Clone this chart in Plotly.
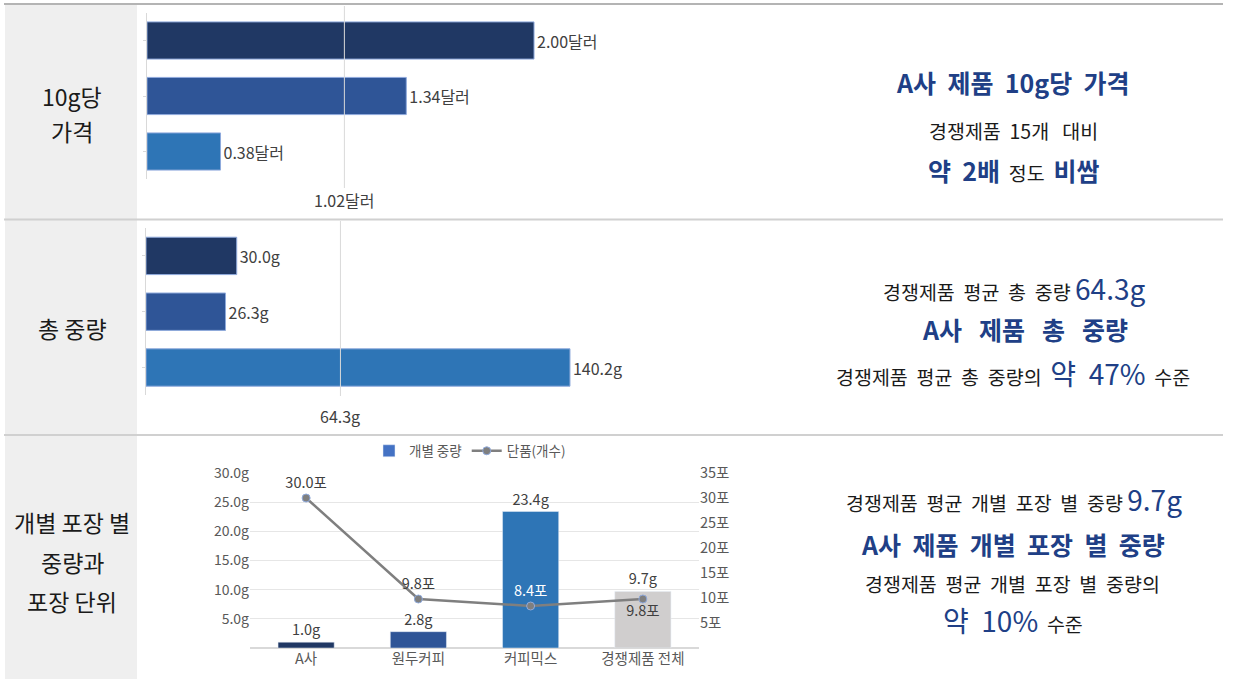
import plotly.graph_objects as go

W, H = 1233, 679
FONT = "Noto Sans CJK KR"
NAVY_TXT = "#203F86"
TXT = "#1a1a1a"
LBL = "#404040"

# ---- data ----
products = ["A사", "원두커피", "커피믹스"]
price_per_10g = [2.00, 1.34, 0.38]
price_avg = 1.02
total_weight = [30.0, 26.3, 140.2]
weight_avg = 64.3
bar_colors = ["#203864", "#2F5597", "#2E75B6"]

pack_cats = ["A사", "원두커피", "커피믹스", "경쟁제품 전체"]
pack_weight = [1.0, 2.8, 23.4, 9.7]
pack_count = [30.0, 9.8, 8.4, 9.8]
pack_colors = ["#203864", "#2F5597", "#2E75B6", "#D0CECE"]
left_ticks = [5, 10, 15, 20, 25, 30]
right_ticks = [5, 10, 15, 20, 25, 30, 35]


def px(x):
    return x / W


def py(y):
    return 1 - y / H


fig = go.Figure()

# ---- top: price per 10g ----
fig.add_trace(go.Bar(
    x=price_per_10g, y=products, orientation="h",
    marker=dict(color=bar_colors, line=dict(color="#8FAADC", width=1)),
    text=[f"{v:.2f}달러" for v in price_per_10g], textposition="outside",
    textfont=dict(size=16, color=LBL), cliponaxis=False,
    xaxis="x", yaxis="y", showlegend=False, hoverinfo="skip"))

# ---- middle: total weight ----
fig.add_trace(go.Bar(
    x=total_weight, y=products, orientation="h",
    marker=dict(color=bar_colors, line=dict(color="#8FAADC", width=1)),
    text=[f"{v:.1f}g" for v in total_weight], textposition="outside",
    textfont=dict(size=16, color=LBL), cliponaxis=False,
    xaxis="x2", yaxis="y2", showlegend=False, hoverinfo="skip"))

# ---- bottom: per-pack weight + count ----
fig.add_trace(go.Bar(
    x=pack_cats, y=pack_weight, width=0.5,
    marker=dict(color=pack_colors),
    text=[f"{v:.1f}g" for v in pack_weight], textposition="outside",
    textfont=dict(size=14.5, color=LBL), cliponaxis=False,
    xaxis="x3", yaxis="y3", showlegend=False, hoverinfo="skip"))
fig.add_trace(go.Bar(
    x=[None], y=[None], name="개별 중량", marker=dict(color="#4472C4"),
    xaxis="x3", yaxis="y3", showlegend=True, hoverinfo="skip"))
fig.add_trace(go.Scatter(
    x=pack_cats, y=pack_count, name="단품(개수)", mode="lines+markers+text",
    line=dict(color="#7F7F7F", width=2.5),
    marker=dict(size=8, color="#7F7F7F", line=dict(color="#8FAADC", width=1)),
    text=[f"{v:.1f}포" for v in pack_count],
    textposition=["top center", "top center", "top center", "bottom center"],
    textfont=dict(size=14.5, color=[LBL, LBL, "white", LBL]),
    cliponaxis=False, xaxis="x3", yaxis="y4", hoverinfo="skip"))

shapes = []
# gray left panel
shapes.append(dict(type="rect", xref="paper", yref="paper", x0=px(5), x1=px(137),
                   y0=0, y1=py(5), fillcolor="#EFEFEF", line=dict(width=0), layer="below"))
# horizontal separators
for yy, col in [(4, "#B4B4B4"), (219.5, "#D0D0D0"), (435, "#D0D0D0")]:
    shapes.append(dict(type="line", xref="paper", yref="paper", x0=px(4), x1=px(1223),
                       y0=py(yy), y1=py(yy), line=dict(color=col, width=2)))
# average reference lines
shapes.append(dict(type="line", xref="x", yref="paper", x0=price_avg, x1=price_avg,
                   y0=py(188), y1=py(6), line=dict(color="#D9D9D9", width=1)))
shapes.append(dict(type="line", xref="x2", yref="paper", x0=weight_avg, x1=weight_avg,
                   y0=py(396), y1=py(221), line=dict(color="#D9D9D9", width=1)))

ann = []
ann.append(dict(x=price_avg, xref="x", y=py(200), yref="paper", text=f"{price_avg:.2f}달러",
                showarrow=False, xanchor="center", yanchor="middle",
                font=dict(size=16, color=LBL)))
ann.append(dict(x=weight_avg, xref="x2", y=py(416), yref="paper", text=f"{weight_avg:.1f}g",
                showarrow=False, xanchor="center", yanchor="middle",
                font=dict(size=16, color=LBL)))

# left labels
for txt, yy in [("10g당", 96), ("가격", 131), ("총 중량", 328),
                ("개별 포장 별", 522), ("중량과", 562), ("포장 단위", 601)]:
    ann.append(dict(x=px(72), y=py(yy), xref="paper", yref="paper", text=txt,
                    showarrow=False, xanchor="center", yanchor="middle",
                    font=dict(size=23, color=TXT)))


def b(t, s=25):
    return f"<span style='color:{NAVY_TXT};font-size:{s}px'><b>{t}</b></span>"


def n(t, s=28):
    return f"<span style='color:{NAVY_TXT};font-size:{s}px'>{t}</span>"


SP = "\u00a0"
S2 = SP * 2
S3 = SP * 3
BLK = 19.5
right_lines = [
    (b(f"A사{S2}제품{S2}10g당{S2}가격"), 82, 1013),
    (f"경쟁제품{S2}15개{S3}대비", 130, 1013),
    (b(f"약{S2}2배") + f"{S2}정도{S2}" + b("비쌈"), 170, 1013),
    (f"경쟁제품{S2}평균{S2}총{S2}중량{SP}" + n("64.3g"), 288, 1014),
    (b(f"A사{S3}제품{S3}총{S3}중량"), 329, 1025),
    (f"경쟁제품{S2}평균{S2}총{S2}중량의{S2}" + n(f"약{S2}47%") + f"{S2}수준", 373, 1013),
    (f"경쟁제품{S2}평균{S2}개별{S2}포장{S2}별{S2}중량{SP}" + n("9.7g"), 499, 1014),
    (b(f"A사{S2}제품{S2}개별{S2}포장{S2}별{S2}중량"), 544, 1013),
    (f"경쟁제품{S2}평균{S2}개별{S2}포장{S2}별{S2}중량의", 583, 1012),
    (n(f"약{S2}10%") + f"{S2}수준", 620, 1013),
]
for txt, yy, xx in right_lines:
    ann.append(dict(x=px(xx), y=py(yy), xref="paper", yref="paper", text=txt,
                    showarrow=False, xanchor="center", yanchor="middle",
                    font=dict(size=BLK, color=TXT)))

TICKC = "#595959"
fig.update_layout(
    width=W, height=H, margin=dict(l=0, r=0, t=0, b=0, pad=0),
    paper_bgcolor="white", plot_bgcolor="rgba(0,0,0,0)",
    font=dict(family=FONT, color=LBL),
    bargap=0.33,
    shapes=shapes, annotations=ann,
    legend=dict(orientation="h", x=px(470), xanchor="center", y=py(451), yanchor="middle",
                font=dict(size=13.5, color=TICKC), bgcolor="rgba(0,0,0,0)",
                itemwidth=30, traceorder="normal"),
    xaxis=dict(domain=[px(147), px(630)], range=[0, 2.496], visible=False,
               automargin=False),
    yaxis=dict(domain=[py(179.25), py(12.75)], autorange="reversed", showticklabels=False,
               showline=True, linecolor="#D9D9D9", ticks="outside", ticklen=3,
               tickcolor="#D9D9D9", showgrid=False, anchor="x", automargin=False),
    xaxis2=dict(domain=[px(146), px(630)], range=[0, 160.05], visible=False, anchor="y2",
                automargin=False),
    yaxis2=dict(domain=[py(395.4), py(228)], autorange="reversed", showticklabels=False,
                showline=True, linecolor="#D9D9D9", ticks="outside", ticklen=3,
                tickcolor="#D9D9D9", showgrid=False, anchor="x2", automargin=False),
    xaxis3=dict(domain=[px(250), px(699)], anchor="y3", showline=False, showgrid=False,
                tickfont=dict(size=14.5, color=TICKC), ticks="", automargin=False),
    yaxis3=dict(domain=[py(648), py(473)], range=[0, 30], anchor="x3",
                tickvals=left_ticks, ticktext=[f"{v:.1f}g" for v in left_ticks],
                showgrid=True, gridcolor="#E6E6E6", zeroline=True, zerolinecolor="#D9D9D9",
                tickfont=dict(size=14, color=TICKC), ticks="", automargin=False),
    yaxis4=dict(domain=[py(648), py(473)], range=[0, 35], overlaying="y3", side="right",
                anchor="x3", tickvals=right_ticks, ticktext=[f"{v}포" for v in right_ticks],
                showgrid=False, zeroline=False, tickfont=dict(size=14.5, color=TICKC),
                automargin=False),
)

fig.write_html("out.html", config={"displayModeBar": False},
               post_script="document.body.style.margin='0';document.body.style.overflow='hidden';")
